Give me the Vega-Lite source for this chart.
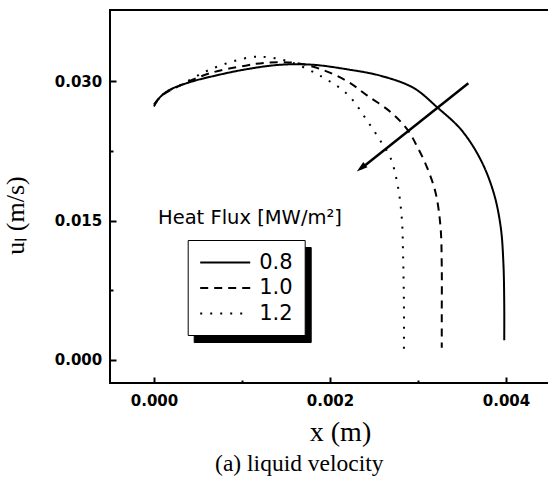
{
  "$schema": "https://vega.github.io/schema/vega-lite/v6.json",
  "width": 440,
  "height": 373,
  "autosize": {"type": "none"},
  "padding": {"left": 110, "top": 10, "right": -2, "bottom": 94},
  "background": "white",
  "title": {"text": "(a) liquid velocity", "orient": "bottom", "frame": "bounds", "anchor": "middle", "dx": 23, "offset": 6, "baseline": "top", "font": "Liberation Serif", "fontSize": 23.5, "fontWeight": "normal", "color": "black"},
  "config": {
    "view": {"stroke": "black", "strokeWidth": 2},
    "axis": {"domain": false, "grid": false, "tickColor": "black", "tickWidth": 2, "labelFont": "DejaVu Sans", "labelFontWeight": "bold", "labelFontSize": 15, "labelColor": "black", "labelFlush": false, "labelOverlap": false, "titleFont": "Liberation Serif", "titleFontWeight": "normal", "titleColor": "black"},
    "legend": {"labelFont": "DejaVu Sans", "labelFontSize": 21, "labelColor": "black", "rowPadding": 4.5, "symbolType": "M-1,0H4", "symbolSize": 400, "symbolStrokeWidth": 1.8, "symbolStrokeColor": "black", "labelOffset": 38, "padding": 11.5, "titleFont": "DejaVu Sans", "titleFontSize": 19.5, "titleFontWeight": "normal", "titleColor": "black", "titleLimit": 400}
  },
  "datasets": {
    "curves": [
      {"flux": "0.8", "i": 0, "x": 0, "y": 0.0273},
      {"flux": "0.8", "i": 1, "x": 0.00005, "y": 0.0281},
      {"flux": "0.8", "i": 2, "x": 0.00016, "y": 0.029},
      {"flux": "0.8", "i": 3, "x": 0.0004, "y": 0.0299},
      {"flux": "0.8", "i": 4, "x": 0.00064, "y": 0.0305},
      {"flux": "0.8", "i": 5, "x": 0.00104, "y": 0.0313},
      {"flux": "0.8", "i": 6, "x": 0.00144, "y": 0.0318},
      {"flux": "0.8", "i": 7, "x": 0.0018, "y": 0.0318},
      {"flux": "0.8", "i": 8, "x": 0.0022, "y": 0.0313},
      {"flux": "0.8", "i": 9, "x": 0.00258, "y": 0.0306},
      {"flux": "0.8", "i": 10, "x": 0.00295, "y": 0.0293},
      {"flux": "0.8", "i": 11, "x": 0.00322, "y": 0.0272},
      {"flux": "0.8", "i": 12, "x": 0.00349, "y": 0.0248},
      {"flux": "0.8", "i": 13, "x": 0.00371, "y": 0.0216},
      {"flux": "0.8", "i": 14, "x": 0.00386, "y": 0.018},
      {"flux": "0.8", "i": 15, "x": 0.00394, "y": 0.0143},
      {"flux": "0.8", "i": 16, "x": 0.00397, "y": 0.0105},
      {"flux": "0.8", "i": 17, "x": 0.00398, "y": 0.006},
      {"flux": "0.8", "i": 18, "x": 0.00398, "y": 0.0021},
      {"flux": "1.0", "i": 0, "x": 0, "y": 0.0275},
      {"flux": "1.0", "i": 1, "x": 0.00008, "y": 0.0284},
      {"flux": "1.0", "i": 2, "x": 0.00024, "y": 0.0293},
      {"flux": "1.0", "i": 3, "x": 0.00064, "y": 0.0309},
      {"flux": "1.0", "i": 4, "x": 0.00104, "y": 0.0317},
      {"flux": "1.0", "i": 5, "x": 0.00125, "y": 0.032},
      {"flux": "1.0", "i": 6, "x": 0.0016, "y": 0.032},
      {"flux": "1.0", "i": 7, "x": 0.00193, "y": 0.0312},
      {"flux": "1.0", "i": 8, "x": 0.0022, "y": 0.03},
      {"flux": "1.0", "i": 9, "x": 0.00242, "y": 0.0285},
      {"flux": "1.0", "i": 10, "x": 0.00269, "y": 0.0267},
      {"flux": "1.0", "i": 11, "x": 0.00288, "y": 0.0248},
      {"flux": "1.0", "i": 12, "x": 0.00299, "y": 0.023},
      {"flux": "1.0", "i": 13, "x": 0.0031, "y": 0.0208},
      {"flux": "1.0", "i": 14, "x": 0.0032, "y": 0.018},
      {"flux": "1.0", "i": 15, "x": 0.003256, "y": 0.0143},
      {"flux": "1.0", "i": 16, "x": 0.00327, "y": 0.01},
      {"flux": "1.0", "i": 17, "x": 0.00327, "y": 0.005},
      {"flux": "1.0", "i": 18, "x": 0.00327, "y": 0.0013},
      {"flux": "1.2", "i": 0, "x": 0.00002, "y": 0.0277},
      {"flux": "1.2", "i": 1, "x": 0.0001, "y": 0.0286},
      {"flux": "1.2", "i": 2, "x": 0.00032, "y": 0.0297},
      {"flux": "1.2", "i": 3, "x": 0.00064, "y": 0.0313},
      {"flux": "1.2", "i": 4, "x": 0.00109, "y": 0.0326},
      {"flux": "1.2", "i": 5, "x": 0.0013, "y": 0.0326},
      {"flux": "1.2", "i": 6, "x": 0.00155, "y": 0.0321},
      {"flux": "1.2", "i": 7, "x": 0.00189, "y": 0.0306},
      {"flux": "1.2", "i": 8, "x": 0.0022, "y": 0.0286},
      {"flux": "1.2", "i": 9, "x": 0.00242, "y": 0.0258},
      {"flux": "1.2", "i": 10, "x": 0.00258, "y": 0.0235},
      {"flux": "1.2", "i": 11, "x": 0.00269, "y": 0.0217},
      {"flux": "1.2", "i": 12, "x": 0.00275, "y": 0.0197},
      {"flux": "1.2", "i": 13, "x": 0.00279, "y": 0.0176},
      {"flux": "1.2", "i": 14, "x": 0.00282, "y": 0.0147},
      {"flux": "1.2", "i": 15, "x": 0.00283, "y": 0.0115},
      {"flux": "1.2", "i": 16, "x": 0.00284, "y": 0.006},
      {"flux": "1.2", "i": 17, "x": 0.00284, "y": 0.0011}
    ],
    "arrow": [
      {"i": 0, "x": 0.003572, "y": 0.0298},
      {"i": 1, "x": 0.00235, "y": 0.0206}
    ],
    "arrowhead": [
      {"x": 0.002304, "y": 0.0203}
    ]
  },
  "layer": [
    {
      "data": {"name": "curves"},
      "mark": {"type": "line", "strokeWidth": 2, "interpolate": "catmull-rom", "clip": true},
      "encoding": {
        "x": {"field": "x", "type": "quantitative", "scale": {"domain": [-0.0005, 0.0045], "nice": false, "zero": false},
          "axis": {"values": [0, 0.001, 0.002, 0.003, 0.004], "format": ".3f",
            "labelExpr": "round(datum.value*1000) % 2 == 0 ? datum.label : ''",
            "tickSize": {"condition": {"test": "round(datum.value*1000) % 2 == 0", "value": -6}, "value": -3},
            "labelPadding": 16,
            "title": "x (m)", "titleX": 230, "titleY": 57, "titleBaseline": "alphabetic", "titleAlign": "center", "titleFontSize": 28}},
        "y": {"field": "y", "type": "quantitative", "scale": {"domain": [-0.0025, 0.0377], "nice": false, "zero": false},
          "axis": {"values": [0, 0.0075, 0.015, 0.0225, 0.03], "format": ".3f",
            "labelExpr": "round(datum.value*10000) % 150 == 0 ? datum.label : ''",
            "tickSize": {"condition": {"test": "round(datum.value*10000) % 150 == 0", "value": -6}, "value": -3},
            "labelPadding": 14.3,
            "title": "uₗ (m/s)", "titleX": -86.4, "titleY": 205, "titleAngle": 270, "titleBaseline": "alphabetic", "titleAlign": "center", "titleFontSize": 26}},
        "order": {"field": "i", "type": "quantitative"},
        "color": {"field": "flux", "type": "nominal", "scale": {"domain": ["0.8", "1.0", "1.2"], "range": ["black", "black", "black"]},
          "legend": {"title": null, "orient": "none", "legendX": 83.7, "legendY": 237, "fillColor": "black", "strokeColor": "black", "labelExpr": "''", "labelOffset": 71.4}},
        "strokeDash": {"field": "flux", "type": "nominal", "scale": {"range": [[1, 0], [8, 6], [2, 8]]},
          "legend": {"title": null, "orient": "none", "legendX": 77.7, "legendY": 230, "fillColor": "white", "strokeColor": "black", "labelExpr": "datum.label + ' '",
            "encode": {"symbols": {"update": {"stroke": {"value": "black"}}}}}},
        "opacity": {"field": "flux", "type": "ordinal", "scale": {"domain": ["1.2", "1.0", "0.8"], "range": [1, 1, 1]},
          "legend": {"title": "Heat Flux [MW/m²]", "orient": "none", "legendX": 48, "legendY": 198.6, "padding": 0, "labelExpr": "''", "symbolSize": 1,
            "encode": {"symbols": {"update": {"opacity": {"value": 0}, "strokeOpacity": {"value": 0}}}, "labels": {"update": {"opacity": {"value": 0}}}}}}
      }
    },
    {
      "data": {"name": "arrow"},
      "mark": {"type": "line", "strokeWidth": 2.5, "color": "black"},
      "encoding": {
        "x": {"field": "x", "type": "quantitative", "scale": {"domain": [-0.0005, 0.0045], "nice": false, "zero": false}},
        "y": {"field": "y", "type": "quantitative", "scale": {"domain": [-0.0025, 0.0377], "nice": false, "zero": false}},
        "order": {"field": "i", "type": "quantitative"}
      }
    },
    {
      "data": {"name": "arrowhead"},
      "mark": {"type": "point", "shape": "M0,0L-0.6,2L0.6,2Z", "size": 121, "angle": 231.6, "filled": true, "color": "black", "opacity": 1, "strokeWidth": 0},
      "encoding": {
        "x": {"field": "x", "type": "quantitative", "scale": {"domain": [-0.0005, 0.0045], "nice": false, "zero": false}},
        "y": {"field": "y", "type": "quantitative", "scale": {"domain": [-0.0025, 0.0377], "nice": false, "zero": false}}
      }
    }
  ]
}
